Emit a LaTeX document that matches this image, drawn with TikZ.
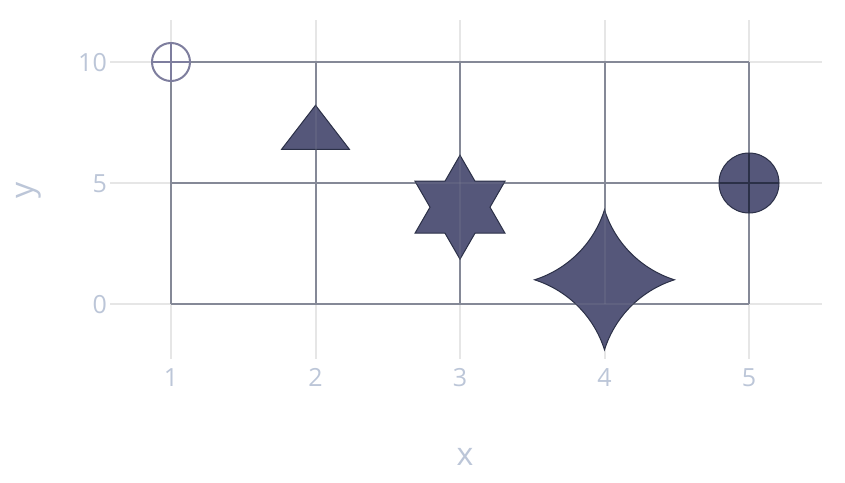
\documentclass[tikz,border=0pt]{standalone}
\usepackage{fontspec}
\setmainfont{Open Sans}
\definecolor{gridc}{HTML}{E6E6E6}
\definecolor{linec}{HTML}{858997}
\definecolor{fillc}{HTML}{55577A}
\definecolor{edgec}{HTML}{2B3047}
\definecolor{openc}{HTML}{7E7E9E}
\definecolor{txtc}{HTML}{BCC6D8}
\tikzset{
  gridline/.style={gridc, line width=2pt},
  dataline/.style={linec, line width=2pt},
  overline/.style={linec, line width=2pt, opacity=0.22},
  marker/.style={fill=fillc, draw=edgec, line width=1pt, line join=miter},
  ticklabel/.style={txtc, inner sep=0pt, text height=18pt, text depth=0pt, font=\fontsize{25}{25}\selectfont},
  axistitle/.style={txtc, inner sep=0pt, font=\fontsize{32}{32}\selectfont},
}
\begin{document}
\begin{tikzpicture}[x=1pt, y=-1pt]
\useasboundingbox (0,0) rectangle (845,482);
\fill[white] (0,0) rectangle (845,482);
% light grid
\foreach \xx in {171,315.5,460,604.5,749} \draw[gridline] (\xx,20) -- (\xx,359);
\foreach \yy in {62,183,304} \draw[gridline] (110,\yy) -- (822,\yy);
% data lines
\foreach \xx in {171,315.5,460,604.5,749} \draw[dataline] (\xx,62) -- (\xx,304);
\foreach \yy in {62,183,304} \draw[dataline] (171,\yy) -- (749,\yy);
% markers
\coordinate (m1) at (171,62);
\coordinate (m2) at (315.5,134.6);
\coordinate (m3) at (460,207.2);
\coordinate (m4) at (604.5,279.8);
\coordinate (m5) at (749,183);
% open circle-cross
\draw[openc, line width=2pt] (m1) circle[radius=19];
\draw[openc, line width=2pt] ([xshift=-19pt]m1) -- ([xshift=19pt]m1) ([yshift=-19pt]m1) -- ([yshift=19pt]m1);
% triangle
\draw[marker] ([shift={(0,-29.3)}]m2) -- ([shift={(33.9,14.7)}]m2) -- ([shift={(-33.9,14.7)}]m2) -- cycle;
% hexagram
\draw[marker, shift={(m3)}] (0,-52) -- (15,-26) -- (45,-26) -- (30,0) -- (45,26) -- (15,26) -- (0,52) -- (-15,26) -- (-45,26) -- (-30,0) -- (-45,-26) -- (-15,-26) -- cycle;
% star-diamond
\draw[marker, shift={(m4)}] (-70,0)
  arc[start angle=-72.44, end angle=-17.56, radius=107.4]
  arc[start angle=-162.44, end angle=-107.56, radius=107.4]
  arc[start angle=107.56, end angle=162.44, radius=107.4]
  arc[start angle=17.56, end angle=72.44, radius=107.4] -- cycle;
% faint lines showing through the filled markers
\foreach \xx in {315.5,460,604.5} \draw[overline] (\xx,62) -- (\xx,304);
\foreach \yy in {183,304} \draw[overline] (315.5,\yy) -- (749,\yy);
% circle-cross
\draw[marker] (m5) circle[radius=30];
\draw[edgec, line width=2pt] ([xshift=-30pt]m5) -- ([xshift=30pt]m5) ([yshift=-30pt]m5) -- ([yshift=30pt]m5);
% tick labels
\node[ticklabel, anchor=east] (ty10) at (107,62) {10};
\node[ticklabel, anchor=east] (ty5) at (107,183) {5};
\node[ticklabel, anchor=east] (ty0) at (107,304) {0};
\node[ticklabel] (tx1) at (171,377) {1};
\node[ticklabel] (tx2) at (315.5,377) {2};
\node[ticklabel] (tx3) at (460,377) {3};
\node[ticklabel] (tx4) at (604.5,377) {4};
\node[ticklabel] (tx5) at (749,377) {5};
% axis titles
\node[axistitle, anchor=base] (xt) at (465,465) {x};
\node[axistitle, rotate=90] (yt) at (29,190) {y};
\end{tikzpicture}
\end{document}
